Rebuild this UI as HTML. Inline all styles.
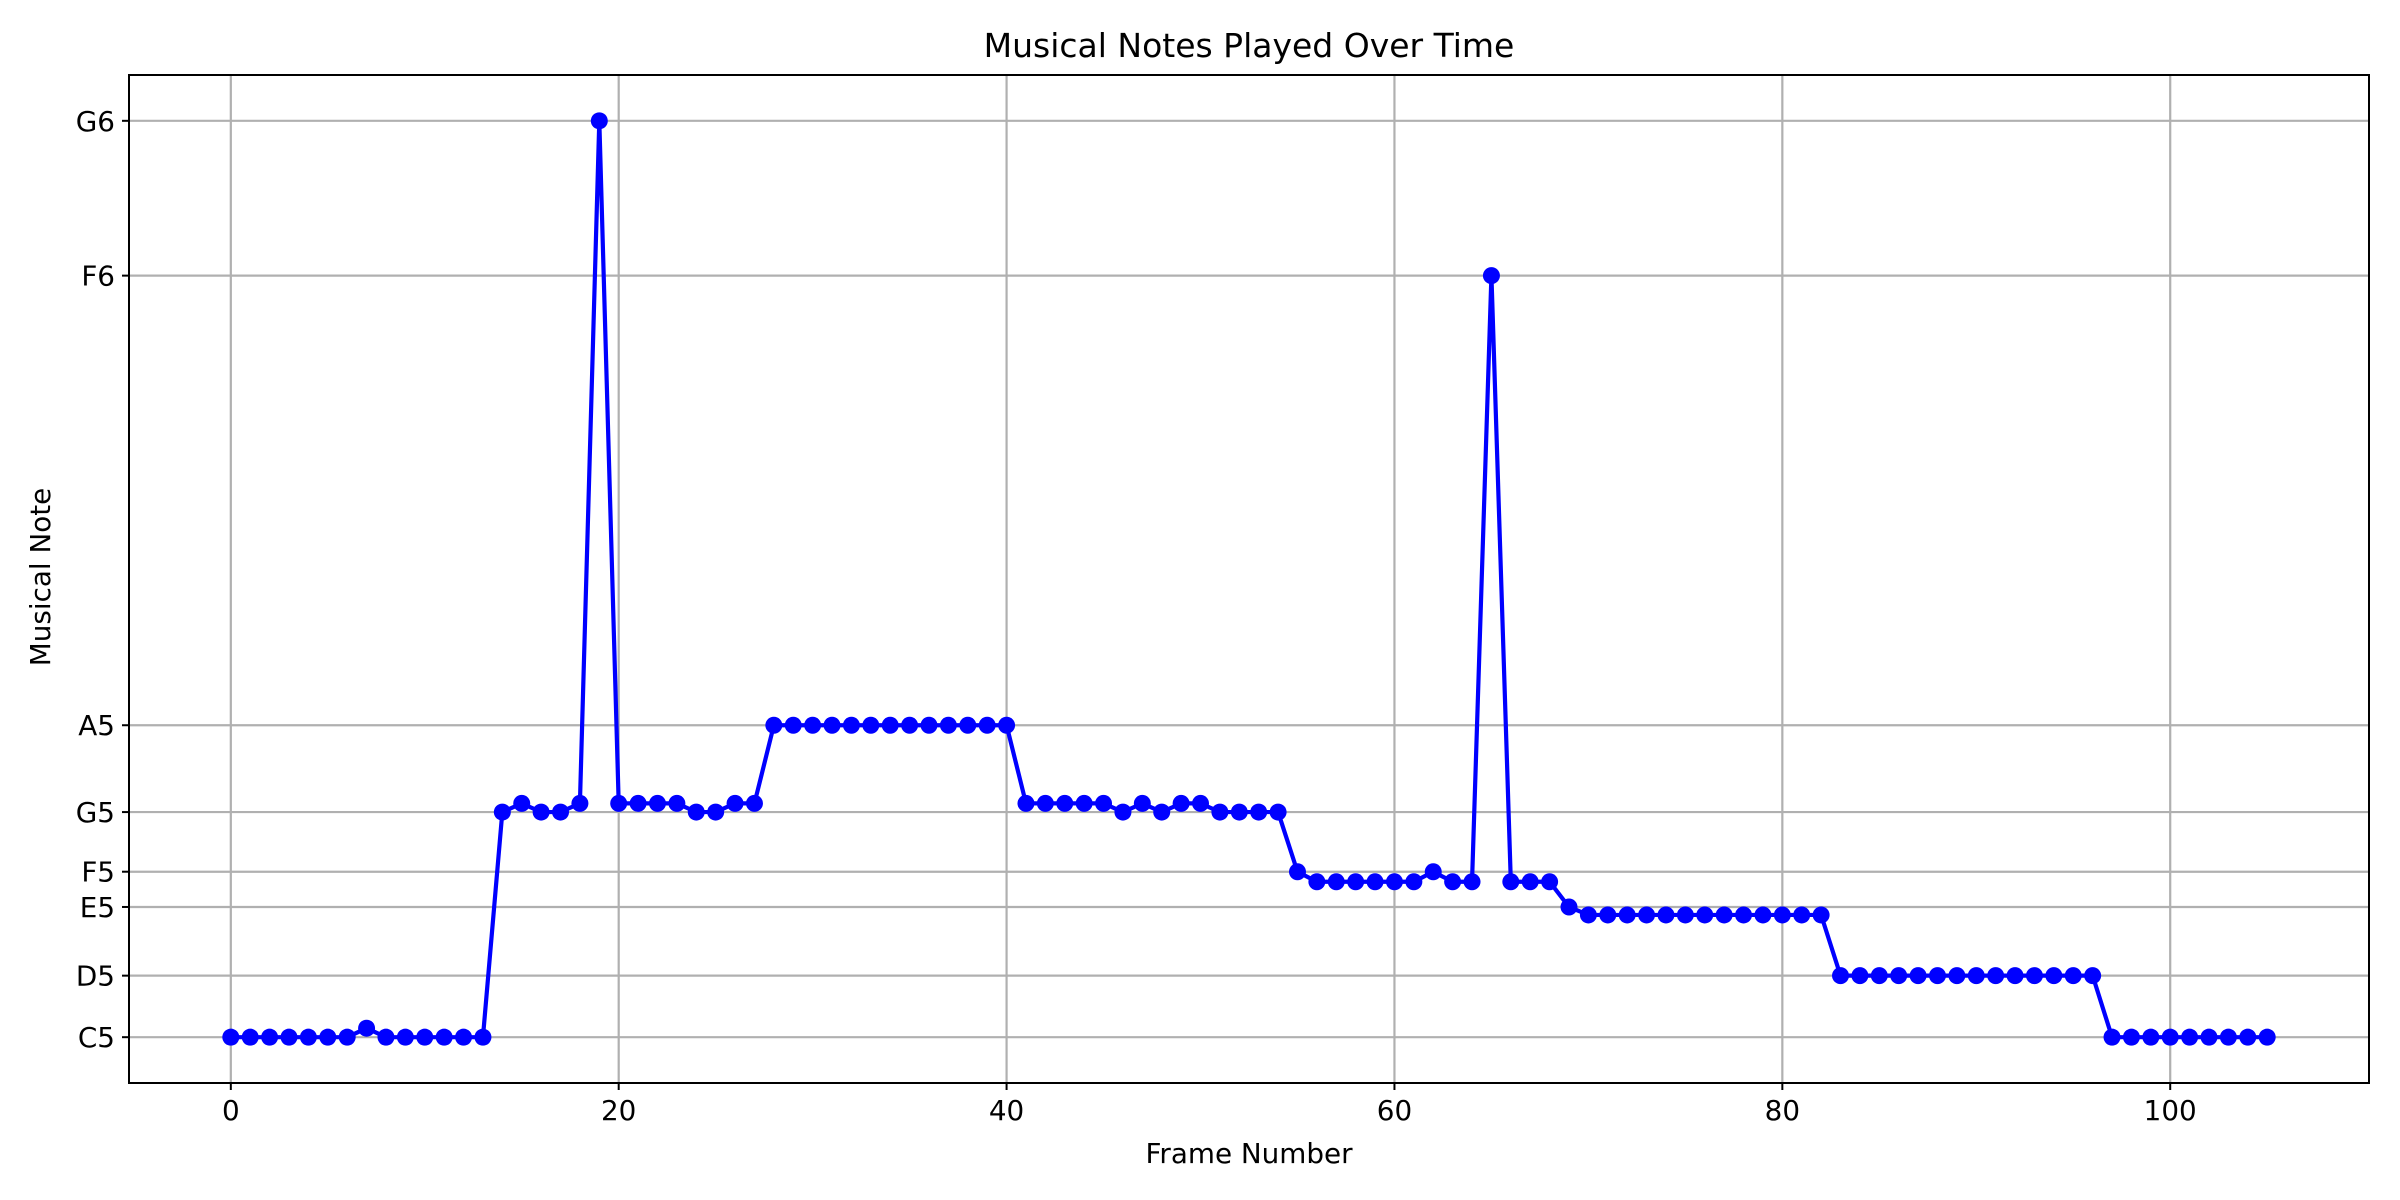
<!DOCTYPE html>
<html><head><meta charset="utf-8"><style>
body{margin:0;background:#fff}
svg{display:block;font-family:"DejaVu Sans","Liberation Sans",sans-serif}
</style></head><body>
<svg id="chart" width="2400" height="1200" viewBox="0 0 2400 1200" xmlns="http://www.w3.org/2000/svg">
<rect width="2400" height="1200" fill="#fff"/>
<g id="grid"></g>
<g id="series"></g>
<rect x="129" y="75" width="2240" height="1008" fill="none" stroke="#000" stroke-width="2"/>
<g id="ticks"></g>
<text x="1249" y="57" font-size="33" text-anchor="middle">Musical Notes Played Over Time</text>
<text x="1249" y="1163" font-size="27.8" text-anchor="middle">Frame Number</text>
<text x="0" y="0" font-size="27.8" text-anchor="middle" transform="translate(50,577) rotate(-90)">Musical Note</text>
</svg>
<script>
const noteNames=["C5","D5","E5","F5","G5","A5","F6","G6"];
const noteFreqs=[523.25,593.4,671.7,711.9,779.9,878.9,1391.5,1568];
const xTicks=[0,20,40,60,80,100];
const freqValues=[523.25,523.25,523.25,523.25,523.25,523.25,523.25,533.5,523.25,523.25,523.25,523.25,523.25,523.25,
779.9,789.8,779.9,779.9,789.8,1568,789.8,789.8,789.8,789.8,779.9,779.9,789.8,789.8,
878.9,878.9,878.9,878.9,878.9,878.9,878.9,878.9,878.9,878.9,878.9,878.9,878.9,
789.8,789.8,789.8,789.8,789.8,779.9,789.8,779.9,789.8,789.8,779.9,779.9,779.9,779.9,
711.9,700.5,700.5,700.5,700.5,700.5,700.5,711.9,700.5,700.5,1391.5,700.5,700.5,700.5,671.7,
662.6,662.6,662.6,662.6,662.6,662.6,662.6,662.6,662.6,662.6,662.6,662.6,662.6,
593.4,593.4,593.4,593.4,593.4,593.4,593.4,593.4,593.4,593.4,593.4,593.4,593.4,593.4,
523.25,523.25,523.25,523.25,523.25,523.25,523.25,523.25,523.25];
const L=129,R=2369,T=75,B=1083;
const n=freqValues.length;
const xMin=-0.05*(n-1),xMax=(n-1)*1.05;
const yLo=Math.min(...freqValues),yHi=Math.max(...freqValues),ym=(yHi-yLo)*0.05;
const sx=v=>L+(v-xMin)/(xMax-xMin)*(R-L);
const sy=v=>B-(v-(yLo-ym))/((yHi+ym)-(yLo-ym))*(B-T);
const NS="http://www.w3.org/2000/svg";
function mk(tag,attrs,parent){const e=document.createElementNS(NS,tag);for(const k in attrs)e.setAttribute(k,attrs[k]);parent.appendChild(e);return e;}
const grid=document.getElementById('grid'),ticks=document.getElementById('ticks'),series=document.getElementById('series');
xTicks.forEach(t=>{const x=sx(t);
 const g=mk('line',{x1:x,x2:x,y1:T,y2:B,stroke:'#b0b0b0','stroke-width':2.2},grid);
 
 
 const tk=mk('line',{x1:x,x2:x,y1:B,y2:B+7,stroke:'#000','stroke-width':2},ticks);
 
 
 const tx=mk('text',{x:x,y:B+37,'font-size':27.8,'text-anchor':'middle'},ticks);tx.textContent=t;
 
 
});
noteFreqs.forEach((f,i)=>{const y=sy(f);
 const g=mk('line',{x1:L,x2:R,y1:y,y2:y,stroke:'#b0b0b0','stroke-width':2.2},grid);
 
 
 const tk=mk('line',{x1:L-7,x2:L,y1:y,y2:y,stroke:'#000','stroke-width':2},ticks);
 
 
 const tx=mk('text',{x:L-14,y:y+10,'font-size':27.8,'text-anchor':'end'},ticks);tx.textContent=noteNames[i];
 
 
});
const pts=freqValues.map((v,i)=>sx(i)+','+sy(v)).join(' ');
const pl=mk('polyline',{points:pts,fill:'none',stroke:'#0000ff','stroke-width':4.2,'stroke-linejoin':'round'},series);


freqValues.forEach((v,i)=>{
 const c=mk('circle',{cx:sx(i),cy:sy(v),r:8.5,fill:'#0000ff'},series);
 
 
});
</script>
</body></html>
